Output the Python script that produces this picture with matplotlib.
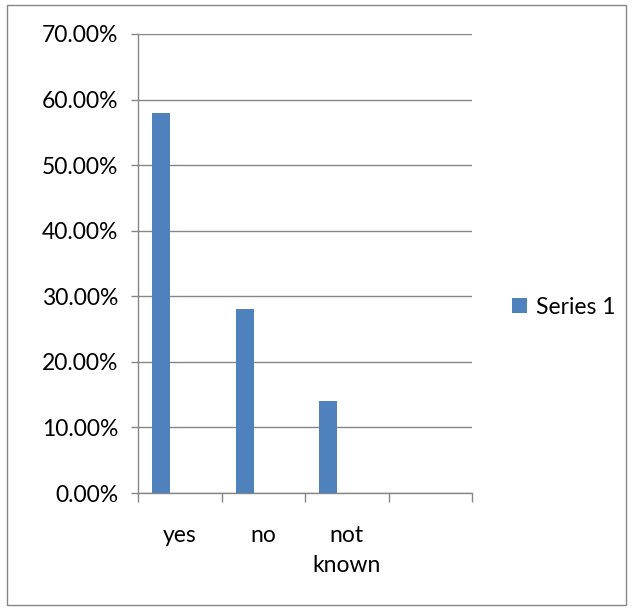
import matplotlib

matplotlib.use("Agg")
import matplotlib.pyplot as plt
from matplotlib.patches import Rectangle
from matplotlib.ticker import FuncFormatter, MultipleLocator

categories = ["yes", "no", "not\nknown", ""]
series1 = [0.58, 0.28, 0.14, None]
series_name = "Series 1"

BAR = "#4F81BD"
GRID = "#868686"
FS = 16.5

plt.rcParams["font.family"] = ["Lato", "DejaVu Sans"]

fig = plt.figure(figsize=(6.33, 6.10), dpi=100)
ax = fig.add_axes([138 / 633, 117 / 610, 334 / 633, 459 / 610])

xs = [i + 0.276 for i, v in enumerate(series1) if v is not None]
vals = [v for v in series1 if v is not None]
ax.bar(xs, vals, 0.216, color=BAR, zorder=3, label=series_name)

ax.set_xlim(0, len(categories))
ax.set_ylim(0, 0.70)
ax.yaxis.set_major_locator(MultipleLocator(0.10))
ax.yaxis.set_major_formatter(FuncFormatter(lambda v, p: f"{v * 100:.2f}%"))
ax.grid(axis="y", color=GRID, linewidth=1.0, zorder=0)
ax.set_axisbelow(True)

ax.set_xticks(range(len(categories) + 1))
ax.set_xticklabels([])
ax.set_xticks([i + 0.5 for i in range(len(categories))], minor=True)
ax.set_xticklabels(categories, minor=True, fontsize=FS, linespacing=1.55)
ax.tick_params(axis="x", which="major", length=6.5, width=1, color=GRID)
ax.tick_params(axis="x", which="minor", length=0, pad=23)
ax.tick_params(axis="y", length=5, width=1, color=GRID, labelsize=FS, pad=9)

for s in ("top", "right"):
    ax.spines[s].set_visible(False)
for s in ("left", "bottom"):
    ax.spines[s].set_color(GRID)
    ax.spines[s].set_linewidth(1.0)

fig.legend(*ax.get_legend_handles_labels(), loc="center left",
           bbox_to_anchor=(491 / 633, 303 / 610), frameon=False,
           fontsize=FS, handlelength=0.65, handleheight=0.65,
           handletextpad=0.4)

fig.patches.append(Rectangle((7 / 633, 5 / 610), 619 / 633, 600 / 610,
                             transform=fig.transFigure, fill=False,
                             edgecolor=GRID, linewidth=1.0))

fig.savefig("out.png", dpi=100, facecolor="white")
